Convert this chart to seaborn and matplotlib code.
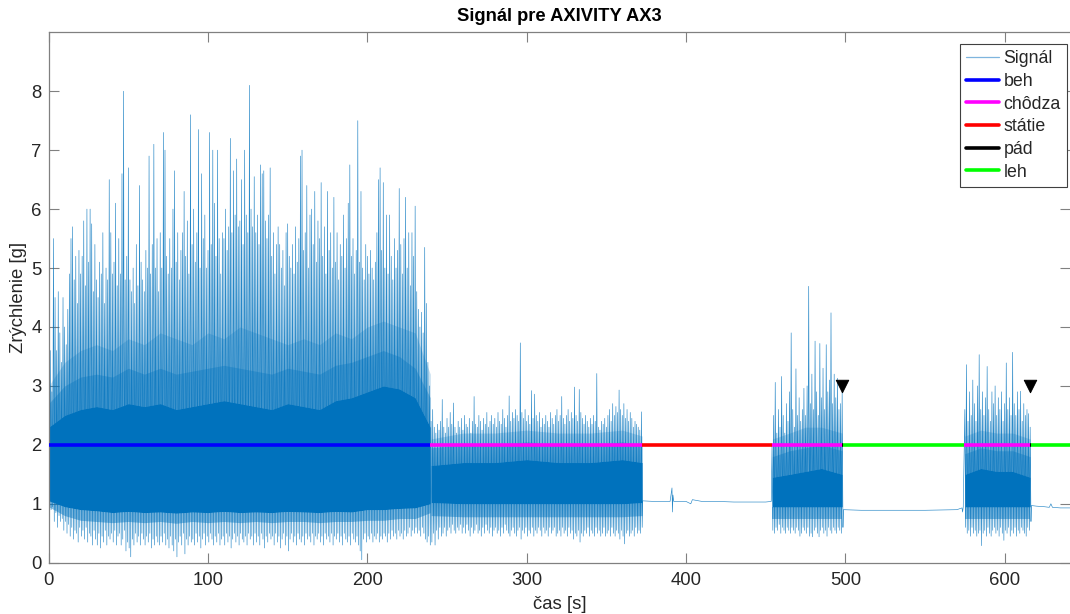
import numpy as np
import pandas as pd
import matplotlib
matplotlib.use("Agg")
import matplotlib.pyplot as plt
from matplotlib.lines import Line2D
import seaborn as sns

# ---------------- data ----------------
# running (beh) segment: one peak and one trough per second, t = 0..239
run_start = 0
run_peaks = [3.3, 3.6, 2.9, 5.5, 4.5, 3.6, 4.6, 3.9, 3.4, 4.5,
             4.0, 3.7, 4.3, 4.9, 5.5, 5.7, 4.8, 5.2, 4.4, 5.3,
             4.9, 5.2, 5.8, 4.7, 6.0, 5.1, 6.0, 5.75, 4.6, 5.4,
             4.8, 4.5, 5.1, 4.9, 5.6, 4.4, 5.0, 4.8, 6.5, 5.6,
             4.9, 5.1, 6.1, 4.7, 5.5, 4.9, 6.6, 8.0, 4.8, 5.2,
             6.7, 4.8, 4.6, 5.0, 4.4, 5.4, 4.7, 6.4, 5.1, 4.8,
             4.6, 5.3, 5.0, 6.9, 4.9, 5.4, 7.1, 5.0, 5.5, 4.6,
             5.6, 5.0, 7.3, 7.0, 5.2, 4.9, 5.5, 5.0, 6.0, 6.65,
             5.1, 5.6, 4.8, 5.3, 5.6, 6.3, 5.2, 5.8, 4.9, 7.6,
             5.4, 6.0, 5.1, 5.6, 7.35, 5.0, 6.6, 5.5, 5.9, 5.0,
             5.3, 7.3, 5.4, 7.0, 6.1, 5.2, 7.0, 5.5, 4.9, 5.6,
             5.5, 6.0, 5.3, 5.7, 7.2, 5.6, 6.65, 5.9, 6.85, 5.7,
             5.8, 6.5, 5.4, 7.0, 5.9, 5.6, 8.1, 6.0, 5.7, 6.55,
             5.6, 5.9, 5.4, 6.75, 6.6, 6.65, 5.8, 5.5, 5.9, 6.7,
             5.2, 5.6, 4.9, 5.4, 5.7, 5.4, 5.0, 5.3, 4.7, 5.6,
             5.75, 5.2, 5.0, 5.4, 4.9, 5.7, 5.1, 5.5, 6.9, 7.0,
             5.3, 5.6, 6.4, 5.0, 5.9, 6.0, 5.4, 6.3, 5.1, 5.8,
             5.5, 6.45, 5.2, 5.7, 4.9, 6.3, 5.3, 5.6, 5.0, 6.2,
             5.1, 5.6, 4.8, 5.4, 5.2, 5.9, 5.0, 5.5, 6.1, 6.75,
             5.2, 5.5, 4.9, 5.3, 7.5, 5.1, 6.3, 5.0, 4.8, 5.4,
             5.2, 4.9, 5.3, 5.0, 4.8, 5.1, 5.6, 6.5, 6.7, 5.3,
             6.45, 5.0, 5.9, 4.9, 5.9, 5.2, 4.8, 5.5, 5.0, 5.3,
             6.35, 5.4, 4.9, 5.5, 6.2, 5.0, 5.6, 4.7, 5.6, 5.2,
             6.05, 4.6, 4.3, 4.0, 4.25, 3.9, 5.35, 4.4, 3.4, 3.0]
run_troughs = [1.0, 0.9, 0.95, 0.7, 0.85, 0.6, 0.8, 0.7, 0.75, 0.55,
               0.7, 0.5, 0.65, 0.45, 0.6, 0.4, 0.55, 0.5, 0.35, 0.6,
               0.45, 0.55, 0.4, 0.6, 0.35, 0.5, 0.45, 0.3, 0.55, 0.4,
               0.3, 0.5, 0.25, 0.45, 0.35, 0.55, 0.3, 0.45, 0.4, 0.5,
               0.35, 0.55, 0.3, 0.45, 0.5, 0.3, 0.4, 0.55, 0.2, 0.35,
               0.25, 0.1, 0.4, 0.3, 0.5, 0.35, 0.45, 0.3, 0.5, 0.4,
               0.3, 0.45, 0.35, 0.5, 0.25, 0.4, 0.3, 0.45, 0.35, 0.3,
               0.45, 0.35, 0.5, 0.3, 0.4, 0.25, 0.45, 0.3, 0.2, 0.4,
               0.1, 0.35, 0.45, 0.3, 0.5, 0.15, 0.4, 0.3, 0.45, 0.35,
               0.4, 0.3, 0.5, 0.35, 0.45, 0.25, 0.4, 0.5, 0.3, 0.45,
               0.35, 0.5, 0.4, 0.3, 0.45, 0.35, 0.5, 0.3, 0.4, 0.45,
               0.3, 0.5, 0.35, 0.45, 0.25, 0.4, 0.5, 0.35, 0.45, 0.3,
               0.5, 0.4, 0.35, 0.45, 0.3, 0.5, 0.4, 0.45, 0.3, 0.5,
               0.35, 0.45, 0.3, 0.5, 0.4, 0.25, 0.45, 0.35, 0.5, 0.4,
               0.45, 0.3, 0.5, 0.35, 0.45, 0.25, 0.4, 0.5, 0.3, 0.45,
               0.2, 0.4, 0.5, 0.35, 0.45, 0.3, 0.5, 0.4, 0.35, 0.45,
               0.3, 0.5, 0.4, 0.45, 0.35, 0.5, 0.3, 0.45, 0.4, 0.5,
               0.35, 0.45, 0.3, 0.5, 0.4, 0.45, 0.35, 0.5, 0.3, 0.45,
               0.4, 0.5, 0.35, 0.45, 0.3, 0.5, 0.4, 0.35, 0.45, 0.3,
               0.5, 0.4, 0.35, 0.45, 0.3, 0.2, 0.05, 0.4, 0.5, 0.35,
               0.45, 0.4, 0.5, 0.35, 0.45, 0.4, 0.5, 0.35, 0.45, 0.4,
               0.5, 0.45, 0.35, 0.5, 0.4, 0.55, 0.45, 0.5, 0.4, 0.55,
               0.45, 0.5, 0.4, 0.55, 0.45, 0.5, 0.6, 0.45, 0.55, 0.5,
               0.6, 0.5, 0.55, 0.45, 0.6, 0.5, 0.4, 0.35, 0.45, 0.3]

# walking (chôdza) segment 1: t = 240..372
walk1_start = 240
walk1_peaks = [2.4, 2.6, 2.3, 2.2, 2.35, 2.25, 2.4, 2.77, 2.3, 2.2,
               2.45, 2.3, 2.55, 2.35, 2.71, 2.3, 2.2, 2.4, 2.3, 2.45,
               2.25, 2.5, 2.35, 2.3, 2.45, 2.2, 2.4, 2.82, 2.35, 2.3,
               2.5, 2.4, 2.25, 2.45, 2.35, 2.55, 2.3, 2.4, 2.5, 2.35,
               2.45, 2.3, 2.55, 2.4, 2.35, 2.6, 2.45, 2.3, 2.5, 2.83,
               2.4, 2.55, 2.45, 2.6, 2.5, 2.4, 3.73, 2.55, 2.45, 2.6,
               2.4, 2.5, 2.35, 2.92, 2.45, 2.86, 2.5, 2.4, 2.55, 2.3,
               2.45, 2.35, 2.5, 2.4, 2.3, 2.55, 2.45, 2.35, 2.5, 2.6,
               2.4, 2.5, 2.82, 2.45, 2.35, 2.5, 2.6, 2.4, 2.55, 2.45,
               2.98, 2.5, 2.4, 2.94, 2.55, 2.45, 2.35, 2.5, 2.4, 2.3,
               2.45, 2.35, 2.5, 2.4, 3.21, 2.3, 2.25, 2.4, 2.35, 2.45,
               2.3, 2.5, 2.6, 2.4, 2.7, 2.5, 2.65, 2.55, 2.93, 2.6,
               2.5, 2.7, 2.45, 2.6, 2.4, 2.55, 2.45, 2.3, 2.4, 2.35,
               2.3, 2.25, 2.56]
walk1_troughs = [0.35, 0.5, 0.3, 0.55, 0.4, 0.6, 0.45, 0.5, 0.6, 0.45,
                 0.55, 0.6, 0.5, 0.65, 0.55, 0.5, 0.6, 0.55, 0.65, 0.5,
                 0.6, 0.5, 0.65, 0.55, 0.45, 0.6, 0.5, 0.55, 0.65, 0.5,
                 0.55, 0.45, 0.6, 0.5, 0.65, 0.55, 0.5, 0.6, 0.45, 0.55,
                 0.6, 0.5, 0.55, 0.45, 0.6, 0.5, 0.65, 0.55, 0.5, 0.45,
                 0.55, 0.6, 0.5, 0.45, 0.55, 0.6, 0.4, 0.55, 0.5, 0.6,
                 0.45, 0.55, 0.5, 0.6, 0.45, 0.55, 0.5, 0.6, 0.55, 0.45,
                 0.6, 0.5, 0.55, 0.45, 0.6, 0.5, 0.55, 0.6, 0.45, 0.5,
                 0.55, 0.45, 0.6, 0.5, 0.55, 0.45, 0.6, 0.5, 0.55, 0.4,
                 0.5, 0.45, 0.55, 0.35, 0.5, 0.45, 0.55, 0.5, 0.6, 0.45,
                 0.55, 0.5, 0.45, 0.6, 0.5, 0.55, 0.45, 0.5, 0.6, 0.45,
                 0.5, 0.55, 0.45, 0.6, 0.5, 0.45, 0.55, 0.5, 0.4, 0.55,
                 0.45, 0.32, 0.5, 0.55, 0.45, 0.5, 0.55, 0.45, 0.6, 0.5,
                 0.55, 0.5, 0.6]

# standing (státie) 373..454
stand_t = [372.8, 380, 390, 391.2, 391.5, 391.8, 392.3, 400, 403, 404, 410, 420, 430, 440, 450, 453.5]
stand_v = [1.05, 1.04, 1.04, 1.27, 0.86, 1.15, 1.04, 1.04, 1.0, 1.07, 1.04, 1.04, 1.03, 1.03, 1.03, 1.04]

# walking segment 2: t = 454..498
walk2_start = 454
walk2_peaks = [2.0, 2.5, 3.06, 2.2, 2.6, 2.3, 3.16, 2.5, 2.2, 2.7,
               2.4, 2.9, 3.9, 2.6, 2.3, 3.29, 2.5, 2.8, 2.4, 2.6,
               2.96, 2.5, 3.0, 4.69, 2.7, 3.2, 2.6, 3.76, 2.9, 2.5,
               3.72, 2.8, 3.3, 2.6, 3.7, 2.9, 3.1, 4.24, 2.7, 3.2,
               2.8, 3.13, 2.6, 2.7, 2.9]
walk2_troughs = [0.55, 0.5, 0.6, 0.55, 0.65, 0.5, 0.6, 0.55, 0.5, 0.6,
                 0.55, 0.5, 0.6, 0.55, 0.5, 0.6, 0.55, 0.45, 0.5, 0.6,
                 0.55, 0.5, 0.6, 0.45, 0.5, 0.44, 0.55, 0.6, 0.5, 0.44,
                 0.55, 0.6, 0.5, 0.55, 0.45, 0.6, 0.55, 0.5, 0.6, 0.55,
                 0.5, 0.6, 0.55, 0.5, 0.6]

# lying (leh) 498..575
lie1_t = [498.8, 510, 530, 550, 570, 573.2, 573.6, 574.0]
lie1_v = [0.9, 0.89, 0.89, 0.89, 0.9, 0.93, 0.86, 0.95]

# walking segment 3: t = 575..616
walk3_start = 575
walk3_peaks = [2.6, 3.36, 2.4, 2.9, 2.5, 3.1, 2.7, 2.4, 3.0, 3.53,
               2.6, 2.9, 2.5, 2.8, 3.33, 2.6, 2.4, 2.9, 2.7, 3.0,
               2.5, 2.8, 2.6, 2.9, 2.4, 2.7, 3.39, 2.6, 2.8, 2.5,
               3.57, 2.7, 2.5, 2.9, 2.6, 2.91, 2.4, 2.7, 2.5, 2.6,
               2.53, 2.3]
walk3_troughs = [0.6, 0.5, 0.55, 0.45, 0.6, 0.5, 0.55, 0.45, 0.5, 0.55,
                 0.29, 0.5, 0.55, 0.45, 0.6, 0.5, 0.45, 0.55, 0.6, 0.5,
                 0.55, 0.45, 0.6, 0.5, 0.38, 0.55, 0.5, 0.6, 0.45, 0.55,
                 0.5, 0.6, 0.45, 0.55, 0.5, 0.6, 0.55, 0.5, 0.45, 0.6,
                 0.55, 0.7]

# lying after second fall
lie2_t = [616.8, 620, 625, 628, 629, 630, 635, 641]
lie2_v = [0.97, 0.96, 0.95, 0.94, 1.0, 0.94, 0.93, 0.93]

# dense part of the signal: solid core plus lighter halos (run sampled every 10 s)
band_run_t = [0, 10, 20, 30, 40, 50, 60, 70, 80, 90, 100, 110, 120, 130, 140, 150, 160, 170,
              180, 190, 200, 210, 220, 230, 239.5]
band_run_core_hi = [2.3, 2.5, 2.6, 2.65, 2.6, 2.7, 2.65, 2.7, 2.6, 2.65, 2.7, 2.75, 2.7, 2.65,
                    2.6, 2.7, 2.65, 2.6, 2.75, 2.8, 2.9, 3.0, 2.95, 2.8, 2.3]
band_run_core_lo = [1.05, 0.95, 0.9, 0.88, 0.85, 0.87, 0.85, 0.86, 0.84, 0.86, 0.85, 0.87, 0.85,
                    0.86, 0.85, 0.87, 0.86, 0.85, 0.87, 0.86, 0.9, 0.9, 0.92, 0.93, 1.0]
band_run_halo1_hi = [2.7, 3.0, 3.15, 3.2, 3.15, 3.3, 3.2, 3.3, 3.2, 3.25, 3.3, 3.35, 3.3, 3.25,
                     3.2, 3.3, 3.25, 3.2, 3.35, 3.4, 3.5, 3.6, 3.5, 3.3, 2.8]
band_run_halo2_hi = [3.0, 3.4, 3.6, 3.7, 3.6, 3.8, 3.7, 3.9, 3.8, 3.7, 3.9, 3.8, 4.0, 3.9, 3.8,
                     3.7, 3.8, 3.7, 3.9, 3.8, 4.0, 4.1, 4.0, 3.9, 3.2]
band_run_halo_lo = [0.95, 0.8, 0.72, 0.7, 0.68, 0.7, 0.68, 0.7, 0.67, 0.7, 0.68, 0.7, 0.68, 0.7,
                    0.68, 0.7, 0.7, 0.68, 0.7, 0.7, 0.72, 0.72, 0.75, 0.75, 0.85]

band_w1_t = [240, 260, 280, 300, 320, 340, 360, 372.5]
band_w1_core_hi = [1.65, 1.7, 1.7, 1.75, 1.7, 1.7, 1.75, 1.7]
band_w1_core_lo = [1.02, 1.0, 1.0, 1.0, 1.0, 1.0, 1.0, 1.02]
band_w1_halo1_hi = [1.95, 2.0, 2.0, 2.05, 2.0, 2.0, 2.05, 2.0]
band_w1_halo2_hi = [2.1, 2.2, 2.2, 2.25, 2.2, 2.2, 2.25, 2.15]
band_w1_halo_lo = [0.8, 0.78, 0.78, 0.78, 0.78, 0.78, 0.78, 0.8]

band_w2_t = [454.2, 465, 475, 485, 498]
band_w2_core_hi = [1.45, 1.5, 1.55, 1.6, 1.5]
band_w2_core_lo = [0.95, 0.95, 0.95, 0.95, 0.95]
band_w2_halo1_hi = [1.8, 1.9, 1.95, 2.0, 1.9]
band_w2_halo2_hi = [2.1, 2.2, 2.3, 2.3, 2.2]
band_w2_halo_lo = [0.75, 0.75, 0.75, 0.75, 0.75]

band_w3_t = [575, 585, 595, 605, 616]
band_w3_core_hi = [1.5, 1.6, 1.55, 1.55, 1.45]
band_w3_core_lo = [0.95, 0.95, 0.95, 0.95, 0.95]
band_w3_halo1_hi = [1.85, 1.95, 1.9, 1.9, 1.8]
band_w3_halo2_hi = [2.15, 2.25, 2.2, 2.2, 2.1]
band_w3_halo_lo = [0.75, 0.75, 0.75, 0.75, 0.75]

# activity states (label at y = 2)
state_names = ["beh", "chôdza", "státie", "chôdza", "pád", "leh", "chôdza", "pád", "leh"]
state_start = [0, 239.2, 372.5, 454, 498.0, 498.5, 574.4, 616.0, 616.5]
state_end = [239.2, 372.5, 454, 498.0, 498.5, 574.4, 616.0, 616.5, 641]
state_level = 2
state_colors = {"beh": "#0000FF", "chôdza": "#FF00FF", "státie": "#FF0000",
                "pád": "#000000", "leh": "#00FF00"}
legend_order = ["beh", "chôdza", "státie", "pád", "leh"]

# detected falls
fall_t = [498.2, 616.2]
fall_v = [3.0, 3.0]

# ---------------- assemble signal ----------------
def active(start, peaks, troughs):
    t, v = [], []
    for i, (p, q) in enumerate(zip(peaks, troughs)):
        t += [start + i, start + i + 0.5]
        v += [p, q]
    return t, v

parts = [active(run_start, run_peaks, run_troughs),
         active(walk1_start, walk1_peaks, walk1_troughs),
         (stand_t, stand_v),
         active(walk2_start, walk2_peaks, walk2_troughs),
         (lie1_t, lie1_v),
         active(walk3_start, walk3_peaks, walk3_troughs),
         (lie2_t, lie2_v)]
sig_t = np.concatenate([np.asarray(p[0], float) for p in parts])
sig_v = np.concatenate([np.asarray(p[1], float) for p in parts])
signal = pd.DataFrame({"t": sig_t, "a": sig_v})

bands = [
    (band_run_t, band_run_core_lo, band_run_core_hi, band_run_halo1_hi, band_run_halo2_hi, band_run_halo_lo),
    (band_w1_t, band_w1_core_lo, band_w1_core_hi, band_w1_halo1_hi, band_w1_halo2_hi, band_w1_halo_lo),
    (band_w2_t, band_w2_core_lo, band_w2_core_hi, band_w2_halo1_hi, band_w2_halo2_hi, band_w2_halo_lo),
    (band_w3_t, band_w3_core_lo, band_w3_core_hi, band_w3_halo1_hi, band_w3_halo2_hi, band_w3_halo_lo),
]

# ---------------- plot ----------------
sns.set_style("white")
plt.rcParams["font.family"] = ["Liberation Sans", "DejaVu Sans"]

fig = plt.figure(figsize=(10.7, 6.14), dpi=100)
ax = fig.add_axes([0.0455, 0.0835, 0.9545, 0.8639])

sig_color = "#0072BD"
sns.lineplot(data=signal, x="t", y="a", sort=False, estimator=None,
             color=sig_color, linewidth=0.45, alpha=0.85, ax=ax, zorder=2)
for bt, clo, chi, h1, h2, hlo in bands:
    ax.fill_between(bt, chi, h2, color=sig_color, alpha=0.22, linewidth=0, zorder=1.5)
    ax.fill_between(bt, chi, h1, color=sig_color, alpha=0.35, linewidth=0, zorder=1.6)
    ax.fill_between(bt, hlo, clo, color=sig_color, alpha=0.45, linewidth=0, zorder=1.6)
    ax.fill_between(bt, clo, chi, color=sig_color, linewidth=0, zorder=2.5)

for name, a, b in zip(state_names, state_start, state_end):
    sns.lineplot(x=[a, b], y=[state_level, state_level], color=state_colors[name],
                 linewidth=2.6, ax=ax, zorder=3, solid_capstyle="butt")

sns.scatterplot(x=fall_t, y=fall_v, marker="v", s=80, color="black",
                edgecolor="black", ax=ax, zorder=4)

ax.set_xlim(0, 641)
ax.set_ylim(0, 9)
ax.set_xticks([0, 100, 200, 300, 400, 500, 600])
ax.set_yticks([0, 1, 2, 3, 4, 5, 6, 7, 8])

axis_gray = "#808080"
for side in ["left", "bottom", "top"]:
    ax.spines[side].set_color(axis_gray)
    ax.spines[side].set_linewidth(0.9)
ax.spines["right"].set_visible(False)
ax.tick_params(direction="in", length=7.5, width=0.8, color=axis_gray,
               labelsize=13.3, labelcolor="#262626", top=True, right=True,
               left=True, bottom=True)
ax.tick_params(axis="x", pad=7)
ax.tick_params(axis="y", pad=5)

ax.set_xlabel("čas [s]", fontsize=13.3, color="#262626", labelpad=5)
ax.set_ylabel("Zrýchlenie [g]", fontsize=13.3, color="#262626", labelpad=3)
ax.set_title("Signál pre AXIVITY AX3", fontsize=13.2, fontweight="bold",
             color="black", pad=8)

handles = [Line2D([0], [0], color="#7FB5DE", linewidth=0.9, label="Signál")]
for name in legend_order:
    handles.append(Line2D([0], [0], color=state_colors[name], linewidth=2.6, label=name))
leg = ax.legend(handles=handles, loc="upper right", bbox_to_anchor=(0.997, 0.978),
                borderaxespad=0, fontsize=12.8, frameon=True, fancybox=False,
                edgecolor="#404040", framealpha=1, handlelength=1.85,
                handletextpad=0.25, labelspacing=0.32, borderpad=0.35)
leg.get_frame().set_linewidth(0.8)

fig.savefig("out.png", dpi=100)
